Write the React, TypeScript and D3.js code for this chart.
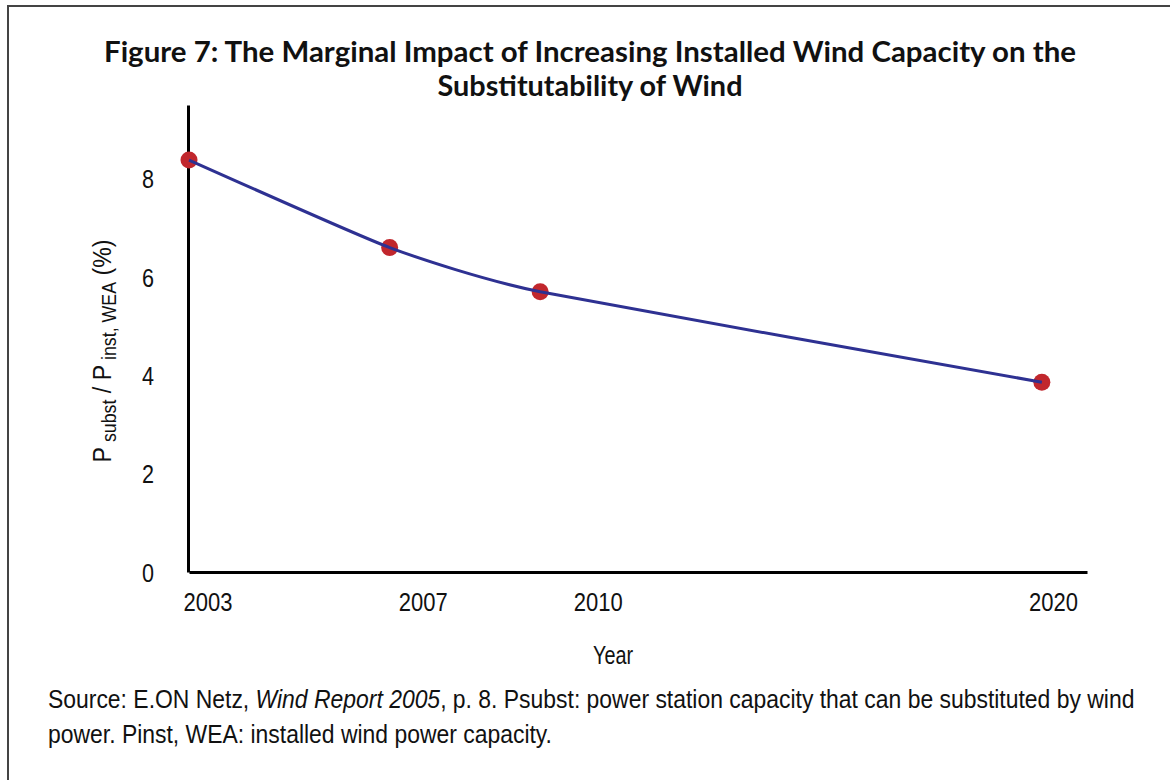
import React, { useEffect, useRef } from "react";
import * as d3 from "d3";

// values
const years = [2003, 2007, 2010, 2020];
const ratio = [8.38, 6.6, 5.7, 3.86];
const yTicks = [0, 2, 4, 6, 8];
const xTickLabels = ["2003", "2007", "2010", "2020"];
// where the tick labels sit, in year units (they are not centred on the points)
const xLabelPos = [2003.37, 2007.66, 2011.15, 2020.22];

const titleLines = [
  "Figure 7: The Marginal Impact of Increasing Installed Wind Capacity on the",
  "Substitutability of Wind",
];
const titleWidths = [972, 305];

const W = 1170, H = 780;
const BODY_FONT = "'Liberation Sans', Arial, sans-serif";

export default function App() {
  const ref = useRef<SVGSVGElement | null>(null);

  useEffect(() => {
    const svg = d3.select(ref.current);
    svg.selectAll("*").remove();

    const x = d3.scaleLinear().domain([2003, 2020.9]).range([189, 1087]);
    const y = d3.scaleLinear().domain([0, 9.5]).range([572, 105]);

    // the reference uses a condensed face, so squeeze text to its measured width
    const squeeze = (sel: any, len: number) =>
      sel.attr("textLength", len).attr("lengthAdjust", "spacingAndGlyphs");

    svg.append("rect").attr("width", W).attr("height", H).attr("fill", "#fff");

    // frame (top and left edges only)
    svg.append("path")
      .attr("d", `M8,${H} L8,6 L${W},6`)
      .attr("fill", "none")
      .attr("stroke", "#444")
      .attr("stroke-width", 2);

    // title
    svg.selectAll(".title").data(titleLines).join("text")
      .attr("class", "title")
      .attr("x", 590)
      .attr("y", (d, i) => 62 + i * 34)
      .attr("text-anchor", "middle")
      .attr("font-family", "Lato, 'Open Sans', sans-serif")
      .attr("font-weight", "bold")
      .attr("font-size", 29)
      .attr("fill", "#111")
      .attr("textLength", (d, i) => titleWidths[i])
      .attr("lengthAdjust", "spacingAndGlyphs")
      .text(d => d);

    // y axis
    const yAxis = svg.append("g")
      .attr("transform", `translate(${x.range()[0] - 1},0)`)
      .call(d3.axisLeft(y).tickValues(yTicks).tickSize(0).tickFormat(d3.format("d")));
    yAxis.select(".domain").attr("stroke", "#000").attr("stroke-width", 3);
    yAxis.selectAll("text")
      .attr("x", -40)
      .attr("dy", "0.36em")
      .attr("text-anchor", "middle")
      .attr("font-family", BODY_FONT)
      .attr("font-size", 25)
      .attr("fill", "#111");
    squeeze(yAxis.selectAll("text"), 12);

    // x axis
    const xAxis = svg.append("g")
      .attr("transform", `translate(0,${y(0)})`)
      .call(d3.axisBottom(x).tickValues(xLabelPos).tickSize(0).tickPadding(21)
        .tickFormat((d, i) => xTickLabels[i]));
    xAxis.select(".domain").attr("stroke", "#000").attr("stroke-width", 3);
    xAxis.selectAll("text")
      .attr("font-family", BODY_FONT)
      .attr("font-size", 25)
      .attr("fill", "#111");
    squeeze(xAxis.selectAll("text"), 49);

    // axis titles
    squeeze(svg.append("text")
      .attr("x", 613)
      .attr("y", 664)
      .attr("text-anchor", "middle")
      .attr("font-family", BODY_FONT)
      .attr("font-size", 25)
      .attr("fill", "#111")
      .text("Year"), 40);

    const yl = svg.append("text")
      .attr("transform", "translate(111,351) rotate(-90)")
      .attr("text-anchor", "middle")
      .attr("font-family", BODY_FONT)
      .attr("font-size", 26)
      .attr("fill", "#111");
    yl.append("tspan").text("P");
    yl.append("tspan").attr("font-size", 20).attr("dy", 5).text(" subst");
    yl.append("tspan").attr("dy", -5).text(" / P");
    yl.append("tspan").attr("font-size", 20).attr("dy", 5).text(" inst, WEA");
    yl.append("tspan").attr("dy", -5).text(" (%)");
    squeeze(yl, 223);

    // series
    const pts = years.map((yr, i) => [x(yr), y(ratio[i])] as [number, number]);

    svg.append("g").selectAll("circle").data(pts).join("circle")
      .attr("cx", d => d[0])
      .attr("cy", d => d[1])
      .attr("r", 8.5)
      .attr("fill", "#c1272d");

    svg.append("path")
      .datum(pts)
      .attr("fill", "none")
      .attr("stroke", "#2e3192")
      .attr("stroke-width", 3)
      .attr("d", d3.line().curve(d3.curveCardinal.tension(0.5)));

    // source note: both lines squeezed horizontally by the same factor
    const note = svg.append("g").attr("transform", "translate(48,0)");
    const src1 = note.append("text")
      .attr("y", 708)
      .attr("font-family", BODY_FONT)
      .attr("font-size", 26)
      .attr("fill", "#111");
    src1.append("tspan").text("Source: E.ON Netz, ");
    src1.append("tspan").attr("font-style", "italic").text("Wind Report 2005");
    src1.append("tspan").text(", p. 8. Psubst: power station capacity that can be substituted by wind");

    note.append("text")
      .attr("y", 743)
      .attr("font-family", BODY_FONT)
      .attr("font-size", 26)
      .attr("fill", "#111")
      .text("power. Pinst, WEA: installed wind power capacity.");

    const n1 = (src1.node() as SVGTextElement).getComputedTextLength();
    note.attr("transform", `translate(48,0) scale(${1087 / n1},1)`);
  }, []);

  return (
    <svg ref={ref} width={W} height={H}
      style={{ position: "absolute", left: 0, top: 0, display: "block" }} />
  );
}
